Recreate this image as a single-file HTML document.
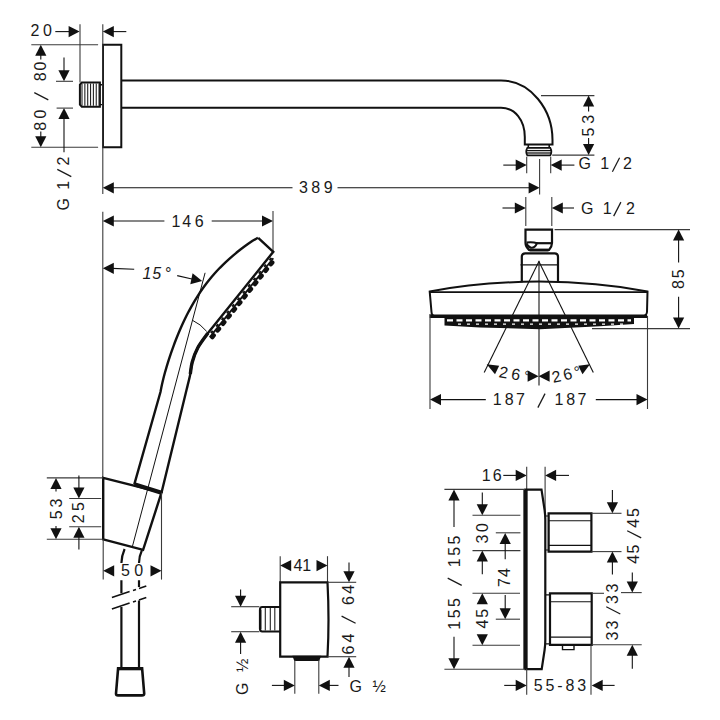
<!DOCTYPE html>
<html><head><meta charset="utf-8"><style>
html,body{margin:0;padding:0;background:#fff;}
svg{display:block;}
text{font-family:"Liberation Sans",sans-serif;fill:#1a1a1a;}
</style></head><body>
<svg width="720" height="720" viewBox="0 0 720 720">
<rect width="720" height="720" fill="#fff"/>
<path d="M103,44.7 H121.3 V147.3 H103 Z" stroke="#111" stroke-width="2.0" fill="none" />
<path d="M81.8,82.5 H99.9 V106.7 H81.8 L79.9,104.6 V84.6 Z" stroke="#111" stroke-width="2.0" fill="none" />
<path d="M99.9,84.7 H102.8 M99.9,104.6 H102.8" stroke="#111" stroke-width="1.4" fill="none" />
<line x1="82.00" y1="83.50" x2="82.00" y2="105.80" stroke="#222" stroke-width="1.1"/>
<line x1="84.85" y1="83.50" x2="84.85" y2="105.80" stroke="#222" stroke-width="1.1"/>
<line x1="87.70" y1="83.50" x2="87.70" y2="105.80" stroke="#222" stroke-width="1.1"/>
<line x1="90.55" y1="83.50" x2="90.55" y2="105.80" stroke="#222" stroke-width="1.1"/>
<line x1="93.40" y1="83.50" x2="93.40" y2="105.80" stroke="#222" stroke-width="1.1"/>
<line x1="96.25" y1="83.50" x2="96.25" y2="105.80" stroke="#222" stroke-width="1.1"/>
<line x1="99.10" y1="83.50" x2="99.10" y2="105.80" stroke="#222" stroke-width="1.1"/>
<path d="M121.3,80.5 H501 C531,80.5 552.5,110 552.5,140 V144.4 H524.8 V137 C524.8,120 515,107.8 501,107.8 H121.3" stroke="#111" stroke-width="2.0" fill="none" />
<path d="M528.3,144.6 V147.8 M549.2,144.6 V147.8" stroke="#111" stroke-width="1.6" fill="none" />
<path d="M527.3,147.8 H550.3 Q552.4,151.5 550.3,155.4 H527.3 Q525.2,151.5 527.3,147.8 Z" stroke="#111" stroke-width="1.7" fill="none" />
<line x1="526.50" y1="150.60" x2="551.00" y2="150.60" stroke="#111" stroke-width="1.3"/>
<line x1="526.50" y1="153.00" x2="551.00" y2="153.00" stroke="#111" stroke-width="1.3"/>
<text x="30.45" y="36.04" font-size="16.0" letter-spacing="3.63">20</text>
<line x1="55.30" y1="31.60" x2="69.00" y2="31.60" stroke="#111" stroke-width="1.1"/>
<polygon points="79.60,31.60 68.60,37.20 68.60,26.00" fill="#111"/>
<line x1="80.00" y1="24.20" x2="80.00" y2="82.50" stroke="#3a3a3a" stroke-width="1.1"/>
<line x1="102.80" y1="24.20" x2="102.80" y2="193.90" stroke="#3a3a3a" stroke-width="1.1"/>
<line x1="102.80" y1="211.70" x2="102.80" y2="477.90" stroke="#3a3a3a" stroke-width="1.1"/>
<polygon points="102.80,31.60 113.80,26.00 113.80,37.20" fill="#111"/>
<line x1="112.00" y1="31.60" x2="126.30" y2="31.60" stroke="#111" stroke-width="1.1"/>
<line x1="31.30" y1="44.70" x2="98.10" y2="44.70" stroke="#3a3a3a" stroke-width="1.1"/>
<line x1="31.30" y1="147.30" x2="98.10" y2="147.30" stroke="#3a3a3a" stroke-width="1.1"/>
<polygon points="40.80,44.70 46.40,55.70 35.20,55.70" fill="#111"/>
<line x1="40.80" y1="55.00" x2="40.80" y2="59.40" stroke="#111" stroke-width="1.1"/>
<line x1="48.30" y1="99.85" x2="34.30" y2="92.65" stroke="#1a1a1a" stroke-width="1.25"/>
<text transform="translate(40.80 0) rotate(-90)" y="5.54" font-size="16.0"><tspan x="-130.70">8</tspan><tspan x="-118.45">0</tspan><tspan x="-81.35">8</tspan><tspan x="-70.45">0</tspan></text>
<line x1="40.80" y1="131.50" x2="40.80" y2="137.00" stroke="#111" stroke-width="1.1"/>
<polygon points="40.80,147.30 35.20,136.30 46.40,136.30" fill="#111"/>
<line x1="64.00" y1="57.50" x2="64.00" y2="72.00" stroke="#111" stroke-width="1.1"/>
<polygon points="64.00,81.20 58.40,70.20 69.60,70.20" fill="#111"/>
<line x1="56.00" y1="81.30" x2="73.00" y2="81.30" stroke="#3a3a3a" stroke-width="1.1"/>
<polygon points="64.00,108.10 69.60,119.10 58.40,119.10" fill="#111"/>
<line x1="64.00" y1="118.00" x2="64.00" y2="152.30" stroke="#111" stroke-width="1.1"/>
<line x1="56.60" y1="108.10" x2="73.00" y2="108.10" stroke="#3a3a3a" stroke-width="1.1"/>
<line x1="71.30" y1="176.60" x2="57.30" y2="169.40" stroke="#1a1a1a" stroke-width="1.25"/>
<text transform="translate(63.80 0) rotate(-90)" y="5.54" font-size="16.0"><tspan x="-210.62">G</tspan><tspan x="-189.66">1</tspan><tspan x="-165.45">2</tspan></text>
<line x1="541.00" y1="95.60" x2="594.40" y2="95.60" stroke="#3a3a3a" stroke-width="1.1"/>
<line x1="552.20" y1="155.10" x2="594.40" y2="155.10" stroke="#3a3a3a" stroke-width="1.1"/>
<polygon points="588.60,95.60 594.20,106.60 583.00,106.60" fill="#111"/>
<line x1="588.60" y1="105.00" x2="588.60" y2="111.50" stroke="#111" stroke-width="1.1"/>
<text transform="translate(588.50 0) rotate(-90)" y="5.54" font-size="16.0"><tspan x="-136.43">5</tspan><tspan x="-123.65">3</tspan></text>
<line x1="588.60" y1="138.00" x2="588.60" y2="145.00" stroke="#111" stroke-width="1.1"/>
<polygon points="588.60,155.10 583.00,144.10 594.20,144.10" fill="#111"/>
<line x1="526.70" y1="156.70" x2="526.70" y2="173.30" stroke="#3a3a3a" stroke-width="1.1"/>
<line x1="550.70" y1="156.70" x2="550.70" y2="173.30" stroke="#3a3a3a" stroke-width="1.1"/>
<line x1="503.30" y1="165.10" x2="517.00" y2="165.10" stroke="#111" stroke-width="1.1"/>
<polygon points="526.70,165.10 515.70,170.70 515.70,159.50" fill="#111"/>
<polygon points="550.70,165.10 561.70,159.50 561.70,170.70" fill="#111"/>
<line x1="560.00" y1="165.10" x2="574.40" y2="165.10" stroke="#111" stroke-width="1.1"/>
<line x1="612.40" y1="171.80" x2="619.60" y2="157.80" stroke="#1a1a1a" stroke-width="1.25"/>
<text y="169.34" font-size="16.0" ><tspan x="578.58">G</tspan><tspan x="600.24">1</tspan><tspan x="623.05">2</tspan></text>
<polygon points="102.80,187.80 113.80,182.20 113.80,193.40" fill="#111"/>
<line x1="112.00" y1="187.80" x2="292.50" y2="187.80" stroke="#111" stroke-width="1.1"/>
<text y="192.94" font-size="16.0" ><tspan x="299.10">3</tspan><tspan x="311.35">8</tspan><tspan x="323.65">9</tspan></text>
<line x1="337.50" y1="187.80" x2="530.00" y2="187.80" stroke="#111" stroke-width="1.1"/>
<polygon points="539.60,187.80 528.60,193.40 528.60,182.20" fill="#111"/>
<line x1="539.60" y1="158.90" x2="539.60" y2="194.40" stroke="#3a3a3a" stroke-width="1.1"/>
<line x1="525.80" y1="197.00" x2="525.80" y2="226.00" stroke="#3a3a3a" stroke-width="1.1"/>
<line x1="551.80" y1="197.00" x2="551.80" y2="226.00" stroke="#3a3a3a" stroke-width="1.1"/>
<line x1="502.50" y1="208.00" x2="516.00" y2="208.00" stroke="#111" stroke-width="1.1"/>
<polygon points="525.80,208.00 514.80,213.60 514.80,202.40" fill="#111"/>
<polygon points="551.80,208.00 562.80,202.40 562.80,213.60" fill="#111"/>
<line x1="561.00" y1="208.00" x2="574.00" y2="208.00" stroke="#111" stroke-width="1.1"/>
<line x1="613.70" y1="216.10" x2="620.90" y2="202.10" stroke="#1a1a1a" stroke-width="1.25"/>
<text y="213.64" font-size="16.0" ><tspan x="580.98">G</tspan><tspan x="602.74">1</tspan><tspan x="626.05">2</tspan></text>
<path d="M525.5,229.6 H552 V243 Q552,246.5 549,250 H529 Q525.5,246.5 525.5,243 Z" stroke="#111" stroke-width="2.2" fill="none" />
<line x1="536.00" y1="243.20" x2="552.00" y2="243.20" stroke="#111" stroke-width="2.2"/>
<path d="M526.5,242.4 Q533,241.6 537,243.2 Q535,248.2 531,247.8 Q528,247 526.5,243.5" stroke="#111" stroke-width="2.0" fill="none" />
<line x1="529.50" y1="249.10" x2="548.60" y2="249.10" stroke="#111" stroke-width="1.0"/>
<line x1="529.50" y1="251.00" x2="548.60" y2="251.00" stroke="#111" stroke-width="1.0"/>
<path d="M521.8,282.2 V256.8 Q521.8,253.3 525.3,253.3 H554.7 Q558,253.3 558,256.8 V282.2" stroke="#111" stroke-width="2.2" fill="none" />
<line x1="520.50" y1="264.90" x2="557.50" y2="264.90" stroke="#111" stroke-width="1.2"/>
<line x1="539.00" y1="260.70" x2="539.00" y2="385.50" stroke="#3a3a3a" stroke-width="1.3"/>
<line x1="538.90" y1="261.40" x2="484.20" y2="372.50" stroke="#111" stroke-width="1.1"/>
<line x1="538.90" y1="261.40" x2="593.30" y2="372.50" stroke="#111" stroke-width="1.1"/>
<path d="M429.7,291.5 Q480,282 539,281.6 Q598,282 647.5,291.5 L647,312 Q646.5,316.2 642,316.2 H436 Q431.5,316.2 431.5,312 Z" stroke="#111" stroke-width="2.0" fill="none" />
<line x1="429.70" y1="316.20" x2="647.00" y2="316.20" stroke="#111" stroke-width="3.5"/>
<line x1="429.70" y1="292.20" x2="647.50" y2="292.20" stroke="#111" stroke-width="1.8"/>
<polygon points="444.50,317.50 634.00,317.50 634.00,324.00 600.00,326.20 540.00,329.20 480.00,327.40 444.50,325.50" fill="#111"/>
<path d="M447,320.3 H631" stroke="#fff" stroke-width="2.3" fill="none" stroke-dasharray="6 3.5"/>
<path d="M458,324.2 H625" stroke="#fff" stroke-width="1.3" fill="none" stroke-dasharray="3 6"/>
<line x1="554.60" y1="229.60" x2="690.00" y2="229.60" stroke="#3a3a3a" stroke-width="1.1"/>
<line x1="592.00" y1="328.60" x2="690.00" y2="328.60" stroke="#3a3a3a" stroke-width="1.1"/>
<polygon points="678.60,229.60 684.20,240.60 673.00,240.60" fill="#111"/>
<line x1="678.60" y1="239.00" x2="678.60" y2="262.40" stroke="#111" stroke-width="1.1"/>
<text transform="translate(678.30 0) rotate(-90)" y="5.54" font-size="16.0"><tspan x="-289.05">8</tspan><tspan x="-278.33">5</tspan></text>
<line x1="678.60" y1="296.80" x2="678.60" y2="318.00" stroke="#111" stroke-width="1.1"/>
<polygon points="678.60,328.60 673.00,317.60 684.20,317.60" fill="#111"/>
<polygon points="486.70,364.20 499.20,365.80 495.00,374.20" fill="#111"/>
<text transform="translate(514.60 374.20) rotate(10)" x="-15.55" y="5.54" font-size="16.0" letter-spacing="3.53">26°</text>
<polygon points="538.60,376.20 527.60,381.80 527.60,370.60" fill="#111"/>
<polygon points="538.60,376.20 549.60,370.60 549.60,381.80" fill="#111"/>
<text transform="translate(566.25 374.40) rotate(-13)" x="-14.55" y="5.54" font-size="16.0" letter-spacing="2.53">26°</text>
<polygon points="578.30,365.80 590.00,364.20 582.50,374.20" fill="#111"/>
<line x1="430.00" y1="314.00" x2="430.00" y2="409.00" stroke="#3a3a3a" stroke-width="1.1"/>
<line x1="647.50" y1="315.80" x2="647.50" y2="409.00" stroke="#3a3a3a" stroke-width="1.1"/>
<polygon points="430.00,399.60 441.00,394.00 441.00,405.20" fill="#111"/>
<line x1="440.00" y1="399.60" x2="485.80" y2="399.60" stroke="#111" stroke-width="1.1"/>
<line x1="537.85" y1="407.60" x2="545.05" y2="393.60" stroke="#1a1a1a" stroke-width="1.25"/>
<text y="405.14" font-size="16.0" ><tspan x="492.84">1</tspan><tspan x="504.75">8</tspan><tspan x="515.94">7</tspan><tspan x="554.54">1</tspan><tspan x="566.35">8</tspan><tspan x="577.54">7</tspan></text>
<line x1="595.80" y1="399.60" x2="638.00" y2="399.60" stroke="#111" stroke-width="1.1"/>
<polygon points="647.50,399.60 636.50,405.20 636.50,394.00" fill="#111"/>
<polygon points="102.80,221.00 113.80,215.40 113.80,226.60" fill="#111"/>
<line x1="112.00" y1="221.00" x2="164.40" y2="221.00" stroke="#111" stroke-width="1.1"/>
<text y="226.64" font-size="16.0" ><tspan x="171.44">1</tspan><tspan x="182.30">4</tspan><tspan x="194.70">6</tspan></text>
<line x1="211.70" y1="221.00" x2="263.00" y2="221.00" stroke="#111" stroke-width="1.1"/>
<polygon points="273.00,221.00 262.00,226.60 262.00,215.40" fill="#111"/>
<line x1="273.00" y1="211.00" x2="273.00" y2="251.80" stroke="#3a3a3a" stroke-width="1.1"/>
<polygon points="102.80,268.30 113.80,262.70 113.80,273.90" fill="#111"/>
<line x1="112.00" y1="268.40" x2="134.20" y2="269.20" stroke="#111" stroke-width="1.1"/>
<text y="278.54" font-size="16.0" font-style="italic"><tspan x="142.54">1</tspan><tspan x="152.17">5</tspan><tspan x="164.60">°</tspan></text>
<line x1="177.20" y1="275.60" x2="193.00" y2="279.20" stroke="#111" stroke-width="1.1"/>
<polygon points="202.20,281.10 190.29,284.33 192.58,273.36" fill="#111"/>
<line x1="205.10" y1="272.80" x2="132.40" y2="546.50" stroke="#111" stroke-width="1.0"/>
<path d="M192.5,320.3 Q200.5,324 206.7,331.4" stroke="#111" stroke-width="1.0" fill="none" />
<path d="M257.9,237.8 L252.59,240.80 L248.23,243.80 L244.07,246.80 L240.11,249.80 L236.33,252.80 L232.73,255.80 L229.30,258.80 L226.02,261.80 L222.90,264.80 L219.92,267.80 L217.08,270.80 L214.37,273.80 L211.78,276.80 L209.31,279.80 L206.94,282.80 L204.68,285.80 L202.51,288.80 L200.43,291.80 L198.44,294.80 L196.53,297.80 L194.69,300.80 L192.93,303.80 L191.23,306.80 L189.59,309.80 L188.01,312.80 L186.48,315.80 L185.01,318.80 L183.58,321.80 L182.20,324.80 L180.86,327.80 L179.56,330.80 L178.30,333.80 L177.07,336.80 L175.88,339.80 L174.72,342.80 L173.60,345.80 L172.51,348.80 L171.44,351.80 L170.41,354.80 L169.41,357.80 L168.44,360.80 L167.50,363.80 L166.60,366.80 L165.73,369.80 L164.89,372.80 L164.09,375.80 L163.33,378.80 L162.60,381.80 L161.92,384.80 L161.29,387.80 L160.70,390.80 L160.48,392.00 L134.3,484.3" stroke="#111" stroke-width="2.4" fill="none" stroke-linejoin="round"/>
<path d="M258.2,237.8 L273.3,251.8 L207.8,333.3  C206.13,335.72 200.40,342.98 197.80,347.80 C195.20,352.62 193.50,357.57 192.20,362.20 C190.90,366.83 190.90,371.18 190.00,375.60 C189.10,380.02 187.33,386.52 186.80,388.70 L161.5,492.7" stroke="#111" stroke-width="2.4" fill="none" />
<path d="M273.29,258.20 L209.66,337.36" stroke="#111" stroke-width="1.8" fill="none" />
<path d="M271.41,257.98 L208.42,336.36" stroke="#111" stroke-width="2.0" fill="none" stroke-dasharray="3 5.5"/>
<path d="M272.26,262.51 L211.77,337.78" stroke="#111" stroke-width="4.4" fill="none" stroke-dasharray="2.2 6.3" stroke-linecap="round"/>
<path d="M207.80,333.30 C206.13,335.72 200.40,342.98 197.80,347.80 C195.20,352.62 193.50,357.57 192.20,362.20 C190.90,366.83 190.90,371.18 190.00,375.60 C189.10,380.02 187.33,386.52 186.80,388.70" stroke="#111" stroke-width="3.4" fill="none" stroke-dasharray="45 100"/>
<path d="M103.2,477.9 L161.5,492.7 L143.1,549.8 L103.2,539.3 Z" stroke="#111" stroke-width="2.4" fill="none" />
<path d="M134.3,484.3 L161.5,492.7" stroke="#111" stroke-width="4.2" fill="none" />
<line x1="46.80" y1="477.90" x2="103.00" y2="477.90" stroke="#3a3a3a" stroke-width="1.1"/>
<line x1="46.80" y1="539.30" x2="103.00" y2="539.30" stroke="#3a3a3a" stroke-width="1.1"/>
<polygon points="56.00,477.90 61.60,488.90 50.40,488.90" fill="#111"/>
<line x1="56.00" y1="488.00" x2="56.00" y2="491.40" stroke="#111" stroke-width="1.1"/>
<text transform="translate(56.10 0) rotate(-90)" y="5.54" font-size="16.0"><tspan x="-519.23">5</tspan><tspan x="-507.60">3</tspan></text>
<line x1="56.00" y1="526.00" x2="56.00" y2="529.00" stroke="#111" stroke-width="1.1"/>
<polygon points="56.00,539.30 50.40,528.30 61.60,528.30" fill="#111"/>
<line x1="78.90" y1="475.60" x2="78.90" y2="488.00" stroke="#111" stroke-width="1.1"/>
<polygon points="78.90,498.50 73.30,487.50 84.50,487.50" fill="#111"/>
<line x1="69.20" y1="498.50" x2="101.20" y2="498.50" stroke="#3a3a3a" stroke-width="1.1"/>
<text transform="translate(78.90 0) rotate(-90)" y="5.54" font-size="16.0"><tspan x="-523.25">2</tspan><tspan x="-511.03">5</tspan></text>
<polygon points="78.90,526.80 84.50,537.80 73.30,537.80" fill="#111"/>
<line x1="78.90" y1="537.00" x2="78.90" y2="549.40" stroke="#111" stroke-width="1.1"/>
<line x1="69.20" y1="526.80" x2="101.20" y2="526.80" stroke="#3a3a3a" stroke-width="1.1"/>
<path d="M124.6,549 Q121.6,556 121.4,563" stroke="#111" stroke-width="2.2" fill="none" />
<path d="M142,550 Q139.2,556 139,563" stroke="#111" stroke-width="2.2" fill="none" />
<path d="M121.4,580.3 V593.3 M121.4,606.9 V668.3" stroke="#111" stroke-width="2.2" fill="none" />
<path d="M139,580.3 V587 M139,600.6 V668.3" stroke="#111" stroke-width="2.2" fill="none" />
<line x1="103.20" y1="539.30" x2="103.20" y2="579.60" stroke="#3a3a3a" stroke-width="1.1"/>
<line x1="161.50" y1="492.70" x2="161.50" y2="579.60" stroke="#3a3a3a" stroke-width="1.1"/>
<polygon points="103.20,570.80 114.20,565.20 114.20,576.40" fill="#111"/>
<text y="576.14" font-size="16.0" ><tspan x="121.07">5</tspan><tspan x="134.15">0</tspan></text>
<polygon points="161.50,570.80 150.50,576.40 150.50,565.20" fill="#111"/>
<path d="M111.9,597.5 L129.6,591.5 M133,590.5 L136,589.5 M139,588.6 L146.3,586" stroke="#111" stroke-width="1.6" fill="none" />
<path d="M111.9,609 L129.6,603 M133,602 L136,601 M139,600 L146.3,597.5" stroke="#111" stroke-width="1.6" fill="none" />
<path d="M118.1,668.3 H142.1 L144.2,693.5 Q144.2,695.4 142,695.4 H118 Q116,695.4 116,693.5 Z" stroke="#111" stroke-width="2.6" fill="none" />
<line x1="118.10" y1="668.80" x2="142.10" y2="668.80" stroke="#111" stroke-width="3"/>
<line x1="280.20" y1="556.20" x2="280.20" y2="582.00" stroke="#3a3a3a" stroke-width="1.1"/>
<line x1="327.50" y1="556.20" x2="327.50" y2="582.00" stroke="#3a3a3a" stroke-width="1.1"/>
<polygon points="280.20,565.60 291.20,560.00 291.20,571.20" fill="#111"/>
<text x="293.38" y="571.14" font-size="16.0" letter-spacing="0.01">41</text>
<polygon points="327.50,565.60 316.50,571.20 316.50,560.00" fill="#111"/>
<path d="M280.2,582.3 H327.5 Q329.5,620 327.5,656.7 H280.2 Z" stroke="#111" stroke-width="2.2" fill="none" />
<line x1="327.50" y1="582.30" x2="356.20" y2="582.30" stroke="#3a3a3a" stroke-width="1.1"/>
<line x1="327.50" y1="656.70" x2="356.20" y2="656.70" stroke="#3a3a3a" stroke-width="1.1"/>
<path d="M280.2,607.1 H262.2 Q259.9,607.1 259.9,610 V628.8 Q259.9,631.5 262.2,631.5 H280.2" stroke="#111" stroke-width="2.0" fill="none" />
<line x1="260.30" y1="609.50" x2="260.30" y2="629.50" stroke="#111" stroke-width="2.4"/>
<line x1="265.30" y1="608.00" x2="265.30" y2="630.60" stroke="#222" stroke-width="1.1"/>
<line x1="270.30" y1="608.00" x2="270.30" y2="630.60" stroke="#222" stroke-width="1.1"/>
<line x1="274.80" y1="608.00" x2="274.80" y2="630.60" stroke="#222" stroke-width="1.1"/>
<line x1="231.20" y1="606.70" x2="259.40" y2="606.70" stroke="#3a3a3a" stroke-width="1.1"/>
<line x1="231.20" y1="631.70" x2="259.40" y2="631.70" stroke="#3a3a3a" stroke-width="1.1"/>
<line x1="240.60" y1="589.60" x2="240.60" y2="598.00" stroke="#111" stroke-width="1.1"/>
<polygon points="240.60,606.70 235.00,595.70 246.20,595.70" fill="#111"/>
<polygon points="240.60,631.70 246.20,642.70 235.00,642.70" fill="#111"/>
<line x1="240.60" y1="641.00" x2="240.60" y2="654.00" stroke="#111" stroke-width="1.1"/>
<text transform="translate(242.00 0) rotate(-90)" y="5.54" font-size="16.0"><tspan x="-695.02">G</tspan><tspan x="-671.97">½</tspan></text>
<path d="M293.8,656.7 H319.8 L318.5,660 H295 Z" stroke="#111" stroke-width="2" fill="#111" />
<line x1="294.80" y1="660.00" x2="294.80" y2="693.80" stroke="#3a3a3a" stroke-width="1.1"/>
<line x1="318.80" y1="660.00" x2="318.80" y2="693.80" stroke="#3a3a3a" stroke-width="1.1"/>
<line x1="271.90" y1="685.40" x2="286.00" y2="685.40" stroke="#111" stroke-width="1.1"/>
<polygon points="294.80,685.40 283.80,691.00 283.80,679.80" fill="#111"/>
<polygon points="318.80,685.40 329.80,679.80 329.80,691.00" fill="#111"/>
<line x1="328.00" y1="685.40" x2="338.50" y2="685.40" stroke="#111" stroke-width="1.1"/>
<text y="691.54" font-size="16.0" ><tspan x="349.48">G</tspan><tspan x="372.43">½</tspan></text>
<line x1="349.00" y1="562.50" x2="349.00" y2="573.00" stroke="#111" stroke-width="1.1"/>
<polygon points="349.00,582.30 343.40,571.30 354.60,571.30" fill="#111"/>
<line x1="355.60" y1="623.30" x2="341.60" y2="616.10" stroke="#1a1a1a" stroke-width="1.25"/>
<text transform="translate(348.10 0) rotate(-90)" y="5.54" font-size="16.0"><tspan x="-654.50">6</tspan><tspan x="-642.50">4</tspan><tspan x="-605.10">6</tspan><tspan x="-593.80">4</tspan></text>
<polygon points="349.00,656.70 354.60,667.70 343.40,667.70" fill="#111"/>
<line x1="349.00" y1="665.00" x2="349.00" y2="677.00" stroke="#111" stroke-width="1.1"/>
<text y="481.34" font-size="16.0" ><tspan x="481.84">1</tspan><tspan x="492.80">6</tspan></text>
<line x1="503.30" y1="475.40" x2="517.00" y2="475.40" stroke="#111" stroke-width="1.1"/>
<polygon points="526.70,475.40 515.70,481.00 515.70,469.80" fill="#111"/>
<line x1="526.70" y1="466.70" x2="526.70" y2="489.00" stroke="#3a3a3a" stroke-width="1.1"/>
<line x1="545.10" y1="466.70" x2="545.10" y2="513.30" stroke="#3a3a3a" stroke-width="1.1"/>
<polygon points="545.10,475.40 556.10,469.80 556.10,481.00" fill="#111"/>
<line x1="554.00" y1="475.40" x2="569.00" y2="475.40" stroke="#111" stroke-width="1.1"/>
<path d="M525.5,489.6 H541.5 L544.6,510 Q545.3,515 545.3,520 V640 Q545.3,645 544.6,650 L541.7,669.2 H525.5 Z" stroke="#111" stroke-width="2.2" fill="none" />
<line x1="525.50" y1="489.60" x2="525.50" y2="669.20" stroke="#111" stroke-width="4.3"/>
<path d="M548.6,513.3 H591.4 V551.6 H548.6 Z" stroke="#111" stroke-width="2.2" fill="none" />
<line x1="549.00" y1="520.70" x2="591.00" y2="520.70" stroke="#111" stroke-width="1.1"/>
<line x1="549.00" y1="545.40" x2="591.00" y2="545.40" stroke="#111" stroke-width="1.1"/>
<path d="M545,516 H548.6 V550 H545" stroke="#111" stroke-width="1.2" fill="none" />
<path d="M550,593.3 H591.7 V644.8 H550 Z" stroke="#111" stroke-width="2.2" fill="none" />
<line x1="550.50" y1="601.70" x2="591.20" y2="601.70" stroke="#111" stroke-width="1.1"/>
<line x1="550.50" y1="637.10" x2="591.20" y2="637.10" stroke="#111" stroke-width="1.1"/>
<path d="M545.8,594.8 H550 V643.8 H545.8" stroke="#111" stroke-width="1.2" fill="none" />
<path d="M562.5,645.4 V649.6 H574 V645.4" stroke="#111" stroke-width="1.4" fill="none" />
<line x1="591.40" y1="513.30" x2="621.50" y2="513.30" stroke="#3a3a3a" stroke-width="1.1"/>
<line x1="591.40" y1="551.60" x2="621.50" y2="551.60" stroke="#3a3a3a" stroke-width="1.1"/>
<line x1="612.40" y1="490.00" x2="612.40" y2="504.00" stroke="#111" stroke-width="1.1"/>
<polygon points="612.40,513.30 606.80,502.30 618.00,502.30" fill="#111"/>
<polygon points="612.40,551.60 618.00,562.60 606.80,562.60" fill="#111"/>
<line x1="612.40" y1="561.00" x2="612.40" y2="574.60" stroke="#111" stroke-width="1.1"/>
<line x1="641.20" y1="537.90" x2="627.20" y2="530.70" stroke="#1a1a1a" stroke-width="1.25"/>
<text transform="translate(633.70 0) rotate(-90)" y="5.54" font-size="16.0"><tspan x="-563.80">4</tspan><tspan x="-553.43">5</tspan><tspan x="-527.80">4</tspan><tspan x="-516.93">5</tspan></text>
<line x1="591.70" y1="593.30" x2="604.00" y2="593.30" stroke="#3a3a3a" stroke-width="1.1"/>
<line x1="621.00" y1="592.60" x2="641.70" y2="592.60" stroke="#3a3a3a" stroke-width="1.1"/>
<line x1="591.70" y1="644.80" x2="641.70" y2="644.80" stroke="#3a3a3a" stroke-width="1.1"/>
<line x1="632.30" y1="572.60" x2="632.30" y2="583.00" stroke="#111" stroke-width="1.1"/>
<polygon points="632.30,592.60 626.70,581.60 637.90,581.60" fill="#111"/>
<line x1="620.30" y1="614.00" x2="606.30" y2="606.80" stroke="#1a1a1a" stroke-width="1.25"/>
<text transform="translate(612.80 0) rotate(-90)" y="5.54" font-size="16.0"><tspan x="-640.40">3</tspan><tspan x="-629.40">3</tspan><tspan x="-603.90">3</tspan><tspan x="-592.40">3</tspan></text>
<polygon points="632.30,644.80 637.90,655.80 626.70,655.80" fill="#111"/>
<line x1="632.30" y1="654.00" x2="632.30" y2="668.80" stroke="#111" stroke-width="1.1"/>
<line x1="526.70" y1="669.00" x2="526.70" y2="694.80" stroke="#3a3a3a" stroke-width="1.1"/>
<line x1="591.00" y1="644.80" x2="591.00" y2="694.80" stroke="#3a3a3a" stroke-width="1.1"/>
<line x1="504.20" y1="685.40" x2="517.00" y2="685.40" stroke="#111" stroke-width="1.1"/>
<polygon points="526.70,685.40 515.70,691.00 515.70,679.80" fill="#111"/>
<text x="533.76" y="690.94" font-size="16.0" letter-spacing="2.86">55-83</text>
<polygon points="591.70,685.40 602.70,679.80 602.70,691.00" fill="#111"/>
<line x1="600.00" y1="685.40" x2="614.60" y2="685.40" stroke="#111" stroke-width="1.1"/>
<line x1="444.40" y1="489.40" x2="525.00" y2="489.40" stroke="#3a3a3a" stroke-width="1.1"/>
<line x1="444.40" y1="669.30" x2="525.00" y2="669.30" stroke="#3a3a3a" stroke-width="1.1"/>
<polygon points="454.00,489.40 459.60,500.40 448.40,500.40" fill="#111"/>
<line x1="454.00" y1="499.00" x2="454.00" y2="527.00" stroke="#111" stroke-width="1.1"/>
<line x1="461.70" y1="585.35" x2="447.70" y2="578.15" stroke="#1a1a1a" stroke-width="1.25"/>
<text transform="translate(454.20 0) rotate(-90)" y="5.54" font-size="16.0"><tspan x="-629.66">1</tspan><tspan x="-618.18">5</tspan><tspan x="-606.93">5</tspan><tspan x="-567.16">1</tspan><tspan x="-555.68">5</tspan><tspan x="-544.43">5</tspan></text>
<line x1="454.00" y1="636.70" x2="454.00" y2="660.00" stroke="#111" stroke-width="1.1"/>
<polygon points="454.00,669.30 448.40,658.30 459.60,658.30" fill="#111"/>
<line x1="482.30" y1="492.50" x2="482.30" y2="505.00" stroke="#111" stroke-width="1.1"/>
<polygon points="482.30,515.30 476.70,504.30 487.90,504.30" fill="#111"/>
<line x1="472.50" y1="515.30" x2="520.40" y2="515.30" stroke="#3a3a3a" stroke-width="1.1"/>
<text transform="translate(482.00 0) rotate(-90)" y="5.54" font-size="16.0"><tspan x="-543.60">3</tspan><tspan x="-531.95">0</tspan></text>
<polygon points="482.30,550.60 487.90,561.60 476.70,561.60" fill="#111"/>
<line x1="482.30" y1="560.00" x2="482.30" y2="574.20" stroke="#111" stroke-width="1.1"/>
<line x1="472.50" y1="550.60" x2="520.40" y2="550.60" stroke="#3a3a3a" stroke-width="1.1"/>
<line x1="495.80" y1="532.80" x2="520.40" y2="532.80" stroke="#3a3a3a" stroke-width="1.1"/>
<polygon points="505.20,533.00 510.80,544.00 499.60,544.00" fill="#111"/>
<line x1="505.20" y1="542.00" x2="505.20" y2="559.20" stroke="#111" stroke-width="1.1"/>
<text transform="translate(504.60 0) rotate(-90)" y="5.54" font-size="16.0"><tspan x="-586.96">7</tspan><tspan x="-576.90">4</tspan></text>
<line x1="505.20" y1="595.00" x2="505.20" y2="610.00" stroke="#111" stroke-width="1.1"/>
<polygon points="505.20,619.20 499.60,608.20 510.80,608.20" fill="#111"/>
<line x1="495.80" y1="619.20" x2="520.00" y2="619.20" stroke="#3a3a3a" stroke-width="1.1"/>
<line x1="472.50" y1="593.30" x2="520.00" y2="593.30" stroke="#3a3a3a" stroke-width="1.1"/>
<polygon points="482.30,593.30 487.90,604.30 476.70,604.30" fill="#111"/>
<text transform="translate(482.00 0) rotate(-90)" y="5.54" font-size="16.0"><tspan x="-628.60">4</tspan><tspan x="-617.73">5</tspan></text>
<polygon points="482.30,645.20 476.70,634.20 487.90,634.20" fill="#111"/>
<line x1="472.50" y1="645.20" x2="520.00" y2="645.20" stroke="#3a3a3a" stroke-width="1.1"/>
</svg></body></html>
